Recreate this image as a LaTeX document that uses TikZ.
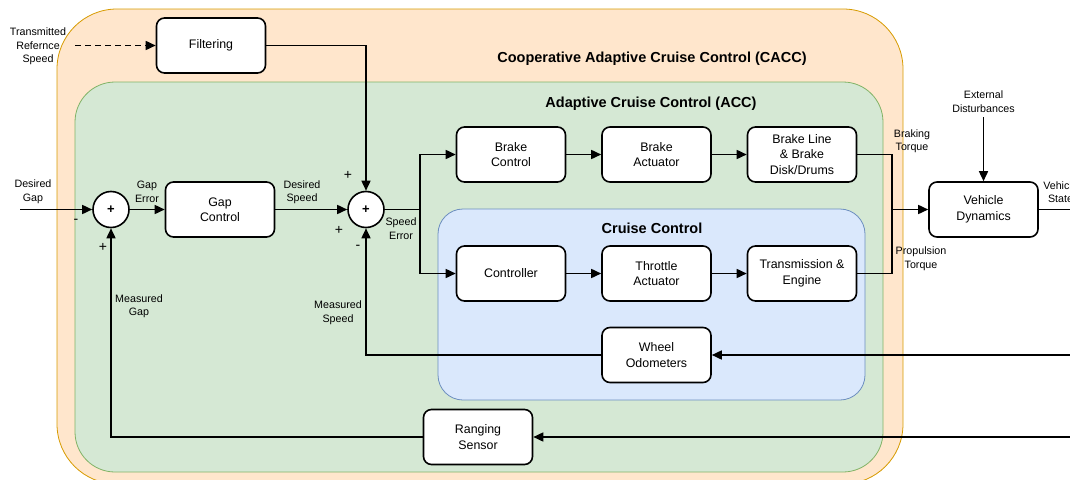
\documentclass[tikz,border=0pt]{standalone}
\usepackage{fontspec}
\setmainfont{Liberation Sans}
\usepackage{xcolor}
\usepackage{tikz}
\usetikzlibrary{arrows.meta}
\definecolor{caccfill}{HTML}{FFE6CC}
\definecolor{caccline}{HTML}{D79B00}
\definecolor{accfill}{HTML}{D5E8D4}
\definecolor{accline}{HTML}{82B366}
\definecolor{ccfill}{HTML}{DAE8FC}
\definecolor{ccline}{HTML}{6C8EBF}

\begin{document}
\begin{tikzpicture}[x=1pt,y=-1pt,
  box/.style={draw,fill=white,line width=1.6pt,rounded corners=8pt,minimum width=109pt,minimum height=55pt,align=center,inner sep=2pt,font=\fontsize{12.4}{15.5}\selectfont},
  sumnode/.style={draw,fill=white,circle,line width=1.6pt,minimum size=36pt,inner sep=0pt,font=\fontsize{13}{13}\selectfont\bfseries},
  lbl/.style={align=center,inner sep=0pt,font=\fontsize{10.7}{13.5}\selectfont},
  sign/.style={inner sep=0pt,font=\fontsize{14}{14}\selectfont},
  title/.style={inner sep=0pt,font=\fontsize{14.5}{17}\selectfont\bfseries},
  wire/.style={line width=1.6pt},
  arr/.style={wire,-{Triangle[length=10pt,width=9pt]}}]
\useasboundingbox (0,0) rectangle (1070,479);
\clip (0,0) rectangle (1070,479);

% nested controller areas
\draw[caccline,fill=caccfill,line width=0.8pt,rounded corners=60pt] (57,9) rectangle (903,484);
\draw[accline,fill=accfill,line width=0.8pt,rounded corners=40pt] (75,82) rectangle (883,472);
\draw[ccline,fill=ccfill,line width=0.8pt,rounded corners=25pt] (438,209) rectangle (865,400);
\node[title] (tcacc) at (652,59) {Cooperative Adaptive Cruise Control (CACC)};
\node[title] (tacc) at (651,104) {Adaptive Cruise Control (ACC)};
\node[title] (tcc) at (652,228) {Cruise Control};

% blocks
\node[box] (filt) at (211,45.5) {Filtering};
\node[box] (gapc) at (220,209.5) {Gap\\Control};
\node[sumnode] (sgap) at (111,209.5) {+};
\node[sumnode] (sspd) at (366,209.5) {+};
\node[box] (bctl) at (511,154.5) {Brake\\Control};
\node[box] (bact) at (656.5,154.5) {Brake\\Actuator};
\node[box] (bline) at (802,154.5) {Brake Line\\\& Brake\\Disk/Drums};
\node[box] (ctl) at (511,273.5) {Controller};
\node[box] (tact) at (656.5,273.5) {Throttle\\Actuator};
\node[box] (trans) at (802,273.5) {Transmission \&\\Engine};
\node[box] (wheel) at (656.5,355) {Wheel\\Odometers};
\node[box] (rang) at (478,437) {Ranging\\Sensor};
\node[box] (veh) at (983.5,209.5) {Vehicle\\Dynamics};

\coordinate (gin) at (20,209.5);
\coordinate (refin) at (75,45.5);
\coordinate (split) at (420,209.5);
\coordinate (jn) at (892,209.5);
\coordinate (vout) at (1075,209.5);
\coordinate (wheelin) at (1075,355);
\coordinate (rangin) at (1075,437);

% signal labels
\node[lbl] (tref) at (38,46.5) {Transmitted\\Refernce\\Speed};
\node[lbl] (dgap) at (33,191.5) {Desired\\Gap};
\node[lbl] (gerr) at (147,192) {Gap\\Error};
\node[lbl] (dspd) at (302,192) {Desired\\Speed};
\node[lbl] (serr) at (401,228.5) {Speed\\Error};
\node[lbl] (mspd) at (338,312.5) {Measured\\Speed};
\node[lbl] (mgap) at (139,306) {Measured\\Gap};
\node[lbl] (btq) at (912,141) {Braking\\Torque};
\node[lbl] (ptq) at (921,258.5) {Propulsion\\Torque};
\node[lbl] (dist) at (983.5,101.5) {External\\Disturbances};
\node[lbl] (vst) at (1060.5,192) {Vehicle\\State};
\node[sign] (mna) at (76,221) {-};
\node[sign] (pla) at (103,247) {+};
\node[sign] (plb) at (348,175) {+};
\node[sign] (plc) at (339,230) {+};
\node[sign] (mnb) at (358,247) {-};

% connectors
\draw[arr,dash pattern=on 6pt off 4pt] (refin) -- (filt.west);
\draw[arr] (gin) -- (sgap.west);
\draw[arr] (sgap) -- (gapc);
\draw[arr] (gapc) -- (sspd);
\draw[arr] (filt.east) -| (sspd.north);
\draw[wire] (sspd.east) -- (split);
\draw[arr] (split) |- (bctl.west);
\draw[arr] (split) |- (ctl.west);
\foreach \a/\b in {bctl/bact, bact/bline, ctl/tact, tact/trans}
    \draw[arr] (\a) -- (\b);
\draw[wire] (bline.east) -| (jn) |- (trans.east);
\draw[arr] (jn) -- (veh.west);
\draw[arr] ([yshift=-5pt]dist.south) -- (veh.north);
\draw[wire] (veh.east) -- (vout);
\draw[arr] (wheelin) -- (wheel.east);
\draw[arr] (wheel.west) -| (sspd.south);
\draw[arr] (rangin) -- (rang.east);
\draw[arr] (rang.west) -| (sgap.south);
\end{tikzpicture}
\end{document}
